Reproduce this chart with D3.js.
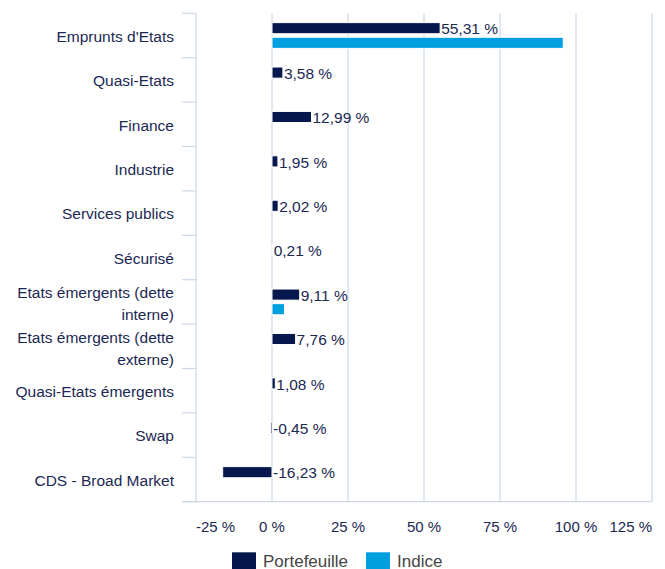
<!DOCTYPE html>
<html><head><meta charset="utf-8">
<script src="https://cdn.jsdelivr.net/npm/d3@7"></script>
<style>
html,body{margin:0;padding:0;background:#fff;}
svg text{font-family:"Liberation Sans",Arial,Helvetica,sans-serif;}
</style>
</head><body>
<svg id="c" width="665" height="569"></svg>
<script>
const categories = ["Emprunts d'Etats","Quasi-Etats","Finance","Industrie","Services publics","Sécurisé","Etats émergents (dette interne)","Etats émergents (dette externe)","Quasi-Etats émergents","Swap","CDS - Broad Market"];
const portefeuille = [55.31,3.58,12.99,1.95,2.02,0.21,9.11,7.76,1.08,-0.45,-16.23];
const indice = [95.8,null,null,null,null,null,4.1,null,null,null,null];
const seriesNames = ["Portefeuille","Indice"];
const seriesColors = ["#06174d","#009fe0"];
const xTicks = [-25,0,25,50,75,100,125];

(function(){
const svg = d3.select("#c");
const pL = 196, pR = 652, pT = 13.3, pB = 501.7;
const textColor = "#1b2853";
const gridColor = "#cdd7e6";

const x = d3.scaleLinear().domain([-25,125]).range([pL,pR]);
const y = d3.scaleBand().domain(categories).range([pT,pB]).padding(0);
const bw = y.bandwidth();
const ys = d3.scaleBand().domain(seriesNames).range([bw*0.21,bw*0.79]).paddingInner(0.24).paddingOuter(0);

const loc = d3.formatLocale({decimal:",",thousands:" ",grouping:[3],currency:["","€"],minus:"-"});
const fmt = v => loc.format(".2f")(v) + " %";

// gridlines
svg.append("g").selectAll("line").data(xTicks.filter(t=>t>-25)).join("line")
  .attr("x1",d=>x(d)).attr("x2",d=>x(d)).attr("y1",pT).attr("y2",pB)
  .attr("stroke",gridColor).attr("stroke-width",1.2);

// left axis line + ticks
svg.append("line").attr("x1",pL).attr("x2",pL).attr("y1",pT).attr("y2",pB+1)
  .attr("stroke",gridColor).attr("stroke-width",1.2);
const bounds = categories.map(c=>y(c)).concat([pB]);
svg.append("g").selectAll("line").data(bounds).join("line")
  .attr("x1",182).attr("x2",pL).attr("y1",d=>d).attr("y2",d=>d)
  .attr("stroke",gridColor).attr("stroke-width",1.2);
// bottom axis line
svg.append("line").attr("x1",182).attr("x2",pR).attr("y1",pB).attr("y2",pB)
  .attr("stroke",gridColor).attr("stroke-width",1.2);

// y labels with wrapping
const yl = svg.append("g");
categories.forEach(c=>{
  const cy = y(c)+bw/2;
  const t = yl.append("text").attr("x",174).attr("text-anchor","end")
    .attr("fill",textColor).attr("font-size","15.5px");
  const words = c.split(" ");
  let lines = [], cur = [];
  const probe = yl.append("text").attr("font-size","15.5px");
  words.forEach(w=>{
    const test = cur.concat([w]).join(" ");
    probe.text(test);
    if (probe.node().getComputedTextLength() > 166 && cur.length) { lines.push(cur.join(" ")); cur=[w]; }
    else cur.push(w);
  });
  lines.push(cur.join(" "));
  probe.remove();
  const lh = 21.7;
  const y0 = cy - (lines.length-1)*lh/2 + (lines.length>1?2:0.8);
  lines.forEach((l,i)=>{
    t.append("tspan").attr("x",174).attr("y",y0+i*lh).attr("dy","0.35em").text(l);
  });
});

// x tick labels (edge labels kept inside plot)
const xl = svg.append("g");
xTicks.forEach(t=>{
  const tx = xl.append("text").attr("y",527).attr("dy","0.35em").attr("fill",textColor)
    .attr("font-size","15px").text(t+" %");
  const w = tx.node().getComputedTextLength();
  let px = x(t)-w/2;
  if (px < pL) px = pL;
  if (px + w > pR) px = pR - w;
  tx.attr("x",px);
});

// bars
const data = [portefeuille, indice];
data.forEach((arr,si)=>{
  const name = seriesNames[si];
  svg.append("g").selectAll("rect")
    .data(categories.map((c,i)=>({c,v:arr[i]})).filter(d=>d.v!==null))
    .join("rect")
    .attr("x",d=>x(Math.min(0,d.v)))
    .attr("width",d=>Math.abs(x(d.v)-x(0)))
    .attr("y",d=>y(d.c)+ys(name))
    .attr("height",ys.bandwidth())
    .attr("fill",seriesColors[si])
    .attr("stroke","#fff").attr("stroke-width",1);
});

// value labels for Portefeuille
svg.append("g").selectAll("text")
  .data(categories.map((c,i)=>({c,v:portefeuille[i]})))
  .join("text")
  .attr("x",d=>x(Math.max(0,d.v))+1)
  .attr("y",d=>y(d.c)+ys("Portefeuille")+ys.bandwidth()/2+0.8)
  .attr("dy","0.35em")
  .attr("fill",textColor).attr("font-size","15.5px")
  .text(d=>fmt(d.v));

// legend
const lg = svg.append("g");
const legX = [232,366];
seriesNames.forEach((n,i)=>{
  lg.append("rect").attr("x",legX[i]).attr("y",552.3).attr("width",24).attr("height",17).attr("fill",seriesColors[i]);
  lg.append("text").attr("x",legX[i]+31).attr("y",566.5).attr("fill","#454545")
    .attr("font-size","17px").text(n);
});
})();
</script>
</body></html>
